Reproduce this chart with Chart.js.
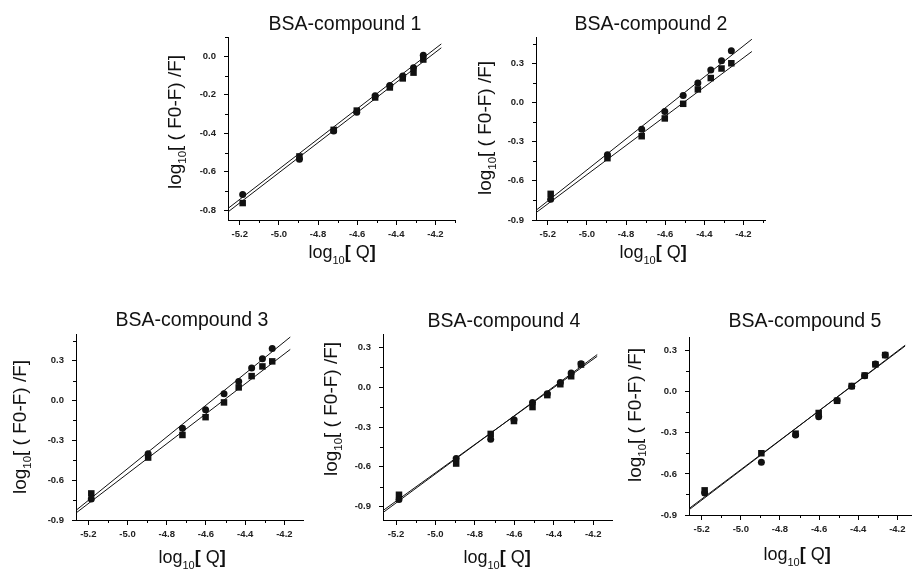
<!DOCTYPE html>
<html><head><meta charset="utf-8">
<script src="https://cdn.jsdelivr.net/npm/chart.js@4/dist/chart.umd.min.js"></script>
<style>
html,body{margin:0;padding:0;background:#fff;}
#wrap{position:relative;width:912px;height:571px;overflow:hidden;background:#fff;}
#wrap canvas{position:absolute;left:0;top:0;}
</style>
</head><body><div id="wrap"></div>
<script>
// ---- data ----
const logQ = [-5.185, -4.895, -4.72, -4.602, -4.508, -4.433, -4.367, -4.312, -4.262];
const panelTitles = ['BSA-compound 1', 'BSA-compound 2', 'BSA-compound 3', 'BSA-compound 4', 'BSA-compound 5'];

const circle1 = [-0.718, -0.535, -0.388, -0.290, -0.205, -0.152, -0.103, -0.060, 0.005];
const square1 = [-0.762, -0.520, -0.382, -0.282, -0.214, -0.162, -0.115, -0.085, -0.017];
const circle2 = [-0.742, -0.400, -0.206, -0.069, 0.053, 0.148, 0.247, 0.318, 0.394];
const square2 = [-0.700, -0.427, -0.259, -0.123, -0.011, 0.099, 0.186, 0.259, 0.299];
const circle3 = [-0.741, -0.402, -0.209, -0.070, 0.050, 0.143, 0.244, 0.314, 0.390];
const square3 = [-0.700, -0.430, -0.260, -0.126, -0.015, 0.098, 0.183, 0.256, 0.294];
const circle4 = [-0.845, -0.537, -0.393, -0.245, -0.116, -0.050, 0.035, 0.106, 0.176];
const square4 = [-0.810, -0.575, -0.352, -0.255, -0.150, -0.060, 0.022, 0.082, 0.170];
const circle5 = [-0.739, -0.515, -0.315, -0.182, -0.064, 0.040, 0.117, 0.203, 0.269];
const square5 = [-0.720, -0.449, -0.306, -0.155, -0.066, 0.042, 0.119, 0.200, 0.268];

// fitted lines: [x at start, x at end] and y at those ends
const fitX1 = [-5.26, -4.17], fitC1 = [-0.790, 0.064], fitS1 = [-0.808, 0.044];
const fitX2 = [-5.26, -4.157], fitC2 = [-0.826, 0.483], fitS2 = [-0.844, 0.389];
const fitX3 = [-5.26, -4.17], fitC3 = [-0.824, 0.477], fitS3 = [-0.844, 0.384];
const fitX4 = [-5.265, -4.18], fitC4 = [-0.943, 0.245], fitS4 = [-0.928, 0.232];
const fitX5 = [-5.265, -4.16], fitC5 = [-0.862, 0.340], fitS5 = [-0.853, 0.334];

// tick labels
const xTicks = [-5.2, -5.0, -4.8, -4.6, -4.4, -4.2];
const xMinor = [-5.1, -4.9, -4.7, -4.5, -4.3, -4.1];
const yTicksA = [-0.8, -0.6, -0.4, -0.2, 0.0];
const yMinorA = [-0.7, -0.5, -0.3, -0.1, 0.1];
const yTicksB = [-0.9, -0.6, -0.3, 0.0, 0.3];
const yMinorB = [-0.75, -0.45, -0.15, 0.15, 0.45];

// ---- layout ----
const FAM = '"Liberation Sans", Arial, Helvetica, sans-serif';
const panels = [
  {title: panelTitles[0], circle: circle1, square: square1, fx: fitX1, fc: fitC1, fs: fitS1,
   area: [228, 37, 455, 220], xr: [-5.26, -4.10], yr: [-0.85, 0.10], yt: yTicksA, ym: yMinorA,
   tpos: [345, 30], ytpos: [181, 122], xtpos: [342, 258]},
  {title: panelTitles[1], circle: circle2, square: square2, fx: fitX2, fc: fitC2, fs: fitS2,
   area: [536, 37, 765, 220], xr: [-5.26, -4.09], yr: [-0.9, 0.5], yt: yTicksB, ym: yMinorB,
   tpos: [651, 30], ytpos: [491, 128], xtpos: [653, 258]},
  {title: panelTitles[2], circle: circle3, square: square3, fx: fitX3, fc: fitC3, fs: fitS3,
   area: [76, 334, 303, 520], xr: [-5.263, -4.105], yr: [-0.9, 0.5], yt: yTicksB, ym: yMinorB,
   tpos: [192, 326], ytpos: [26, 427], xtpos: [192, 563]},
  {title: panelTitles[3], circle: circle4, square: square4, fx: fitX4, fc: fitC4, fs: fitS4,
   area: [383, 334, 612, 520], xr: [-5.266, -4.105], yr: [-1.0, 0.4], yt: yTicksB, ym: yMinorB,
   tpos: [504, 327], ytpos: [337, 409], xtpos: [497, 563]},
  {title: panelTitles[4], circle: circle5, square: square5, fx: fitX5, fc: fitC5, fs: fitS5,
   area: [689, 337, 912, 515], xr: [-5.265, -4.125], yr: [-0.9, 0.4], yt: yTicksB, ym: yMinorB,
   tpos: [805, 327], ytpos: [641, 415], xtpos: [797, 560]}
];

function fmt(v) { return Math.abs(v) < 1e-9 ? '0.0' : Number(v).toFixed(1); }

function drawSegs(ctx, segs, x, y, rot) {
  ctx.save();
  ctx.translate(x, y);
  if (rot) ctx.rotate(rot);
  let total = 0;
  segs.forEach(s => { ctx.font = (s.w || 'normal') + ' ' + s.size + 'px ' + FAM; s._w = ctx.measureText(s.t).width; total += s._w; });
  let cx = -total / 2;
  ctx.fillStyle = '#111';
  ctx.textBaseline = 'alphabetic';
  ctx.textAlign = 'left';
  segs.forEach(s => { ctx.font = (s.w || 'normal') + ' ' + s.size + 'px ' + FAM; ctx.fillText(s.t, cx, s.dy || 0); cx += s._w; });
  ctx.restore();
}

const textPlugin = {
  id: 'texts',
  afterDraw(chart, args, o) {
    const ctx = chart.ctx;
    // minor ticks
    const xs = chart.scales.x, ys = chart.scales.y, ca = chart.chartArea;
    ctx.save();
    ctx.strokeStyle = '#000'; ctx.lineWidth = 1;
    ctx.beginPath();
    xMinor.forEach(v => {
      if (v < xs.min - 1e-9 || v > xs.max + 1e-9) return;
      const px = Math.round(xs.getPixelForValue(v)) + 0.5;
      ctx.moveTo(px, ca.bottom); ctx.lineTo(px, ca.bottom + 3);
    });
    o.ym.forEach(v => {
      if (v < ys.min - 1e-9 || v > ys.max + 1e-9) return;
      const py = Math.round(ys.getPixelForValue(v)) + 0.5;
      ctx.moveTo(ca.left - 3, py); ctx.lineTo(ca.left, py);
    });
    ctx.stroke();
    ctx.restore();
    // chart title
    drawSegs(ctx, [{t: o.title, size: 19.5}], o.tpos[0], o.tpos[1], 0);
    // y axis title
    drawSegs(ctx, [
      {t: 'log', size: 19}, {t: '10', size: 11.5, dy: 5}, {t: '[ ( F0-F) /F]', size: 19}
    ], o.ytpos[0], o.ytpos[1], -Math.PI / 2);
    // x axis title
    drawSegs(ctx, [
      {t: 'log', size: 18}, {t: '10', size: 11, dy: 6}, {t: '[', size: 18, w: 'bold'},
      {t: ' Q', size: 18}, {t: ']', size: 18, w: 'bold'}
    ], o.xtpos[0], o.xtpos[1], 0);
  }
};

const wrap = document.getElementById('wrap');
const YW = 40, XH = 24;

panels.forEach(p => {
  const cv = document.createElement('canvas');
  cv.width = 912; cv.height = 571;
  cv.style.width = '912px'; cv.style.height = '571px';
  wrap.appendChild(cv);
  const pts = arr => logQ.map((x, i) => ({x: x, y: arr[i]}));
  const line = ys => p.fx.map((x, i) => ({x: x, y: ys[i]}));
  new Chart(cv, {
    type: 'scatter',
    data: {datasets: [
      {data: pts(p.circle), pointStyle: 'circle', pointRadius: 3.5, backgroundColor: '#111', borderWidth: 0, showLine: false},
      {data: pts(p.square), pointStyle: 'rect', pointRadius: 4.6, backgroundColor: '#111', borderWidth: 0, showLine: false},
      {data: line(p.fc), showLine: true, pointRadius: 0, borderColor: '#111', borderWidth: 1, fill: false},
      {data: line(p.fs), showLine: true, pointRadius: 0, borderColor: '#111', borderWidth: 1, fill: false}
    ]},
    options: {
      responsive: false, animation: false, devicePixelRatio: 1, events: [],
      layout: {autoPadding: false, padding: {left: p.area[0] - YW, top: p.area[1], right: 912 - p.area[2], bottom: 571 - p.area[3] - XH}},
      plugins: {legend: {display: false}, tooltip: {enabled: false}, title: {display: false},
        texts: {title: p.title, tpos: p.tpos, ytpos: p.ytpos, xtpos: p.xtpos, ym: p.ym}},
      scales: {
        x: {type: 'linear', position: 'bottom', min: p.xr[0], max: p.xr[1],
          afterFit: s => { s.height = XH; },
          afterBuildTicks: s => { s.ticks = xTicks.map(v => ({value: v})); },
          ticks: {font: {family: FAM, size: 9.5, weight: 'bold'}, color: '#222', padding: 4, maxRotation: 0, autoSkip: false, callback: fmt},
          grid: {display: true, drawOnChartArea: false, drawTicks: true, tickLength: 5, color: '#000', tickWidth: 1},
          border: {display: true, color: '#000', width: 1}},
        y: {type: 'linear', position: 'left', min: p.yr[0], max: p.yr[1],
          afterFit: s => { s.width = YW; },
          afterBuildTicks: s => { s.ticks = p.yt.map(v => ({value: v})); },
          ticks: {font: {family: FAM, size: 9.5, weight: 'bold'}, color: '#222', padding: 8, autoSkip: false, callback: fmt},
          grid: {display: true, drawOnChartArea: false, drawTicks: true, tickLength: 4, color: '#000', tickWidth: 1},
          border: {display: true, color: '#000', width: 1}}
      }
    },
    plugins: [textPlugin]
  });
});
</script>
</body></html>
